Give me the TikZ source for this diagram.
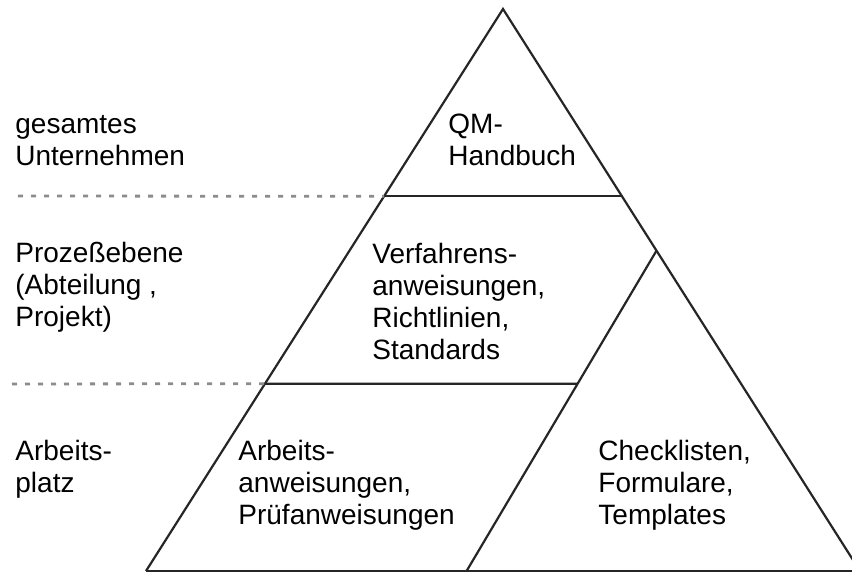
\documentclass[tikz,border=0pt]{standalone}
\usepackage{fontspec}
\setmainfont{Liberation Sans}
\usetikzlibrary{positioning,calc}

\tikzset{
  txt/.style={anchor=base west, align=left, inner sep=0pt, font=\fontsize{14}{16}\selectfont},
  edge/.style={draw=black!85, line width=1.1pt},
  sepline/.style={draw=black!45, line width=1.4pt, dash pattern=on 2.5pt off 4pt},
}

\begin{document}
\begin{tikzpicture}[x=0.5pt, y=-0.5pt]
    \useasboundingbox (0,0) rectangle (852,578);

    % Corners of the pyramid
    \coordinate (apex) at (503,9);
    \coordinate (bl) at (146,571);
    \coordinate (br) at (860,571);

    % Level borders and inner split
    \coordinate (top l) at ($(apex)!1/3!(bl)$);
    \coordinate (top r) at ($(apex)!1/3!(br)$);
    \coordinate (mid l) at ($(apex)!2/3!(bl)$);
    \coordinate (mid r) at ($(apex)!2/3!(br)$);
    \coordinate (split t) at ($(apex)!0.43!(br)$);
    \coordinate (split b) at ($(bl)!0.449!(br)$);
    \coordinate (mid x) at (intersection of mid l--mid r and split t--split b);
    \coordinate (dots a) at (18,196);
    \coordinate (dots b) at (12,384);

    % Draw pyramid
    \draw[edge] (bl) -- (apex) -- (br);
    \draw[edge, line width=1.4pt] (bl) -- (br);
    \draw[edge] (top l) -- (top r);
    \draw[edge] (mid l) -- (mid x);
    \draw[edge] (split t) -- (split b);

    % Dotted guides to the left
    \draw[sepline] (dots a) -- (top l);
    \draw[sepline] (dots b) -- (mid l);

    % Left labels (anchored at the last line)
    \node[txt] (unternehmen) at (15,165) {gesamtes\\Unternehmen};
    \node[txt] (prozess) at (15,326) {Prozeßebene\\(Abteilung ,\\Projekt)};
    \node[txt] (platz) at (15,492) {Arbeits-\\platz};

    % Pyramid labels
    \node[txt] (handbuch) at (448,165) {QM-\\Handbuch};
    \node[txt] (verfahren) at (372,359) {Verfahrens-\\anweisungen,\\Richtlinien,\\Standards};
    \node[txt] (arbeit) at (238,524) {Arbeits-\\anweisungen,\\Prüfanweisungen};
    \node[txt] (check) at (598,524) {Checklisten,\\Formulare,\\Templates};
\end{tikzpicture}
\end{document}
